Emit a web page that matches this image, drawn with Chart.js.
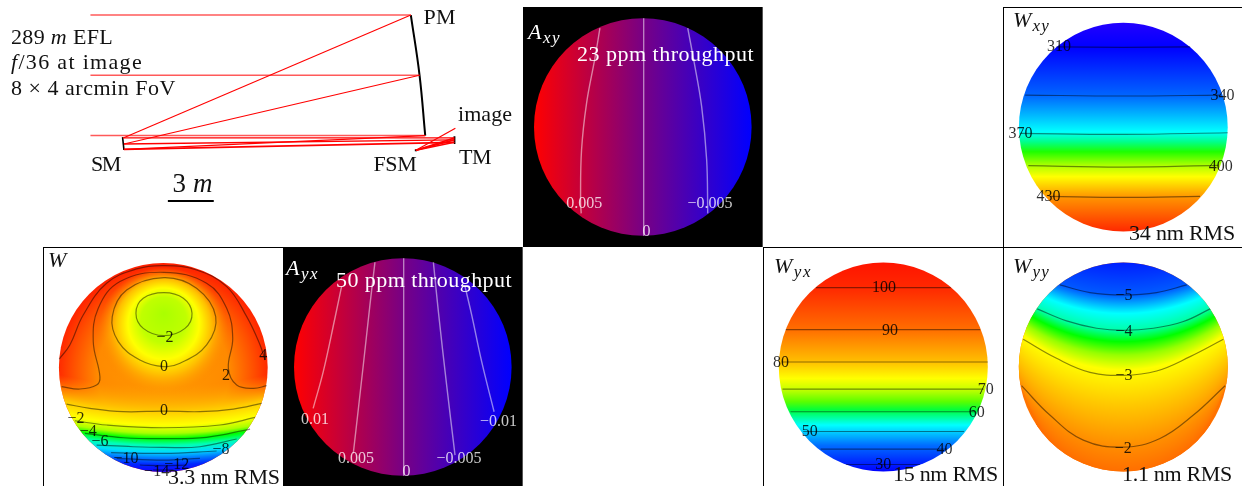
<!DOCTYPE html>
<html>
<head>
<meta charset="utf-8">
<title>Telescope wavefront and apodization maps</title>
<script src="https://cdn.jsdelivr.net/npm/chart.js@4"></script>
<style>
  html, body { margin: 0; padding: 0; background: #fff; }
  body { position: relative; width: 1242px; height: 486px; overflow: hidden; }
  .panel { position: absolute; box-shadow: inset 1px 1px 0 #000; }
  .panel.dark { background: #000; box-shadow: inset -1px 0 0 #555; }
  .panel.plain { box-shadow: none; }
  canvas { position: absolute; left: 0; top: 0; display: block; filter: blur(.3px); }
</style>
</head>
<body>
<div class="panel plain" style="left:0;top:0;width:523px;height:247px"><canvas id="layout" width="523" height="247"></canvas></div>
<div class="panel dark" style="left:523px;top:7px;width:240px;height:240px"><canvas id="axy" width="240" height="240"></canvas></div>
<div class="panel" style="left:1003px;top:7px;width:239px;height:240px"><canvas id="wxy" width="239" height="240"></canvas></div>
<div class="panel" style="left:43px;top:247px;width:240px;height:239px"><canvas id="w" width="240" height="239"></canvas></div>
<div class="panel dark" style="left:283px;top:247px;width:240px;height:239px"><canvas id="ayx" width="240" height="239"></canvas></div>
<div class="panel" style="left:763px;top:247px;width:240px;height:239px"><canvas id="wyx" width="240" height="239"></canvas></div>
<div class="panel" style="left:1003px;top:247px;width:239px;height:239px"><canvas id="wyy" width="239" height="239"></canvas></div>

<script>
// ---------- Optical layout (metres) ----------
const incomingRays = [
  [[-2.10, 7.88], [18.84, 7.88]],
  [[-2.10, 3.94], [19.41, 3.94]],
  [[-2.10, 0], [19.78, 0]]
];
const pmToSmRays = [
  [[18.84, 7.88], [0.04, -0.15]],
  [[19.41, 3.94], [0.09, -0.55]],
  [[19.78, 0], [0.09, -0.90]]
];
const smToTmRays = [
  [[0.04, -0.15], [21.68, -0.15]],
  [[0.09, -0.55], [21.68, -0.28]],
  [[0.09, -0.90], [21.68, -0.44]]
];
const tmToFsmRays = [
  [[21.68, -0.15], [19.17, -0.96]],
  [[21.68, -0.28], [19.17, -0.96]],
  [[21.68, -0.44], [19.17, -0.96]]
];
const fsmToImageRay = [[19.17, -0.96], [21.75, 0.48]];
const primaryMirror = [[18.84, 7.88], [19.41, 3.94], [19.78, 0]];
const secondaryMirror = [[0.0, -0.10], [0.09, -0.94]];
const tertiaryMirror = [[21.68, -0.04], [21.70, -0.55]];
const foldMirror = [[19.10, -0.96], [19.24, -0.96]];
const scaleBar = [[2.96, -4.27], [5.96, -4.27]];

// ---------- Pupil maps: contours in unit-pupil coordinates ----------
const axyContours = [
  [[0.008, 1], [0.008, -1]],
  [[-0.394, 0.908], [-0.44, 0.632], [-0.517, 0.218], [-0.563, -0.212], [-0.572, -0.672], [-0.566, -0.794]],
  [[0.413, 0.908], [0.465, 0.632], [0.541, 0.187], [0.587, -0.304], [0.597, -0.794]]
];
const axyLevels = ["0", "0.005", "\u22120.005"];
const axyLabelX = [0.035, -0.538, 0.618];
const axyLabelY = [-0.963, -0.702, -0.702];

const ayxContours = [
  [[0.008, 1], [0.008, -1]],
  [[-0.256, 0.963], [-0.302, 0.571], [-0.363, 0.018], [-0.455, -0.794]],
  [[0.281, 0.963], [0.327, 0.509], [0.403, -0.166], [0.48, -0.81]],
  [[-0.563, 0.739], [-0.624, 0.448], [-0.731, -0.043], [-0.824, -0.38]],
  [[0.572, 0.739], [0.633, 0.479], [0.725, 0.049], [0.839, -0.411]]
];
const ayxLevels = ["0", "0.005", "\u22120.005", "0.01", "\u22120.01"];
const ayxLabelX = [0.035, -0.431, 0.517, -0.808, 0.879];
const ayxLabelY = [-0.963, -0.84, -0.84, -0.488, -0.503];

const wxyContours = [
  [[-0.64, 0.77], [0, 0.765], [0.64, 0.77]],
  [[-0.94, 0.308], [0, 0.299], [0.94, 0.308]],
  [[-0.99, -0.059], [0, -0.069], [1, -0.053]],
  [[-0.91, -0.369], [0, -0.382], [0.91, -0.366]],
  [[-0.70, -0.663], [0, -0.673], [0.735, -0.663]]
];
const wxyLevels = ["310", "340", "370", "400", "430"];
const wxyLabelX = [-0.617, 0.949, -0.984, 0.933, -0.716];
const wxyLabelY = [0.772, 0.305, -0.059, -0.375, -0.666];
const wxyStopY = [1, 0.765, 0.308, 0.1, -0.043, -0.139, -0.235, -0.363, -0.474, -0.666, -1];
const wxyStopColors = ["#2300ff", "#0000ff", "#0064ff", "#00beff", "#00ffff", "#00ff8c", "#1eff00", "#aaff00", "#ffff00", "#ff9600", "#ff2800"];

const wyxContours = [
  [[-0.645, 0.76], [0.645, 0.76]],
  [[-0.933, 0.358], [0.927, 0.358]],
  [[-0.97, 0.048], [1, 0.048]],
  [[-0.965, -0.211], [0.96, -0.211]],
  [[-0.888, -0.428], [0.878, -0.428]],
  [[-0.767, -0.617], [0.773, -0.617]],
  [[-0.6, -0.786], [0.607, -0.786]],
  [[-0.358, -0.933], [0.351, -0.933]]
];
const wyxLevels = ["100", "90", "80", "70", "60", "50", "40", "30"];
const wyxLabelX = [0.006, 0.064, -0.978, 0.981, 0.895, -0.703, 0.585, 0];
const wyxLabelY = [0.76, 0.351, 0.045, -0.214, -0.435, -0.62, -0.789, -0.933];
const wyxStopY = [1, 0.76, 0.358, 0.048, -0.109, -0.211, -0.332, -0.412, -0.556, -0.748, -1];
const wyxStopColors = ["#ff1400", "#ff2800", "#ff6e00", "#ffc000", "#ffff00", "#c8ff00", "#5aff00", "#00ff3c", "#00ffff", "#006eff", "#0000ff"];

const wyyContours = [
  [[-0.607, 0.786], [-0.319, 0.712], [0, 0.69], [0.319, 0.712], [0.607, 0.786]],
  [[-0.824, 0.556], [-0.543, 0.441], [-0.256, 0.371], [0, 0.351], [0.288, 0.371], [0.575, 0.435], [0.831, 0.556]],
  [[-0.958, 0.265], [-0.639, 0.083], [-0.319, -0.051], [0, -0.08], [0.319, -0.038], [0.639, 0.099], [0.958, 0.265]],
  [[-0.974, -0.179], [-0.703, -0.46], [-0.383, -0.7], [0, -0.767], [0.351, -0.684], [0.671, -0.46], [0.974, -0.179]]
];
const wyyLevels = ["\u22125", "\u22124", "\u22123", "\u22122"];
const wyyLabelX = [0.006, 0.006, 0.006, 0];
const wyyLabelY = [0.684, 0.339, -0.083, -0.78];
// stops run from the small lower circle (0) to the wide upper one (1)
const wyyStopT = [1, 0.844, 0.755, 0.677, 0.621, 0.557, 0.486, 0.318, 0.119, 0];
const wyyStopColors = ["#001eff", "#005aff", "#00ffff", "#00ffaa", "#00ff00", "#96ff00", "#ffff00", "#ffc800", "#ff8c00", "#ff6e00"];
const wyyEdgeColor = "#ff7400";

const wLoops = [
  [[0.006, 0.717], [0.192, 0.663], [0.275, 0.519], [0.208, 0.375], [0.006, 0.305], [-0.192, 0.375], [-0.262, 0.519], [-0.192, 0.663]],
  [[0.006, 0.861], [0.319, 0.759], [0.502, 0.487], [0.415, 0.216], [0.16, 0.04], [0.006, 0.008], [-0.224, 0.072], [-0.431, 0.248], [-0.489, 0.487], [-0.351, 0.743]]
];
const wContours = [
  [[-0.974, -0.184], [-0.799, -0.206], [-0.639, -0.168], [-0.607, -0.088], [-0.671, 0.248], [-0.623, 0.567], [-0.415, 0.823], [0.006, 0.912], [0.415, 0.807], [0.607, 0.567], [0.665, 0.28], [0.623, -0.008], [0.703, -0.168], [0.863, -0.2], [0.99, -0.174]],
  [[-0.997, 0.081], [-0.895, 0.216], [-0.767, 0.503], [-0.543, 0.807], [-0.256, 0.944], [0.006, 0.976], [0.319, 0.934], [0.607, 0.775], [0.799, 0.487], [0.927, 0.216], [0.974, 0.072]],
  [[-0.927, -0.35], [-0.703, -0.391], [-0.383, -0.423], [0.006, -0.417], [0.351, -0.423], [0.671, -0.398], [0.942, -0.343]],
  [[-0.847, -0.51], [-0.543, -0.551], [0, -0.577], [0.543, -0.551], [0.879, -0.478]],
  [[-0.751, -0.631], [-0.383, -0.673], [0, -0.682], [0.415, -0.669], [0.831, -0.59]],
  [[-0.639, -0.743], [-0.288, -0.759], [0, -0.765], [0.351, -0.759], [0.703, -0.685]],
  [[-0.5, -0.815], [0, -0.823], [0.511, -0.8]],
  [[-0.447, -0.87], [0, -0.887], [0.351, -0.87]],
  [[-0.224, -0.934], [0, -0.941], [0.224, -0.934]],
  [[-0.096, -0.982], [0.096, -0.982]]
];
const wLevels = ["\u22122", "0", "4", "2", "0", "\u22122", "\u22124", "\u22126", "\u22128", "\u221210", "\u221212", "\u221214"];
const wLabelX = [0.016, 0.006, 0.958, 0.601, 0.006, -0.837, -0.719, -0.607, 0.553, -0.358, 0.128, -0.064];
const wLabelY = [0.289, 0.002, 0.113, -0.081, -0.414, -0.487, -0.615, -0.711, -0.791, -0.87, -0.934, -0.998];
const wBaseStopT = [0, 0.6, 0.82, 1];
const wBaseStopColors = ["#ff9c00", "#ff8a00", "#ff5000", "#ff1e00"];
const wBlobStopT = [0, 0.35, 0.55, 0.74, 1];
const wBlobStopColors = ["#aaff00", "#c0ff00", "#ffff00", "#ffbe00", "rgba(255,130,0,0)"];
const wLowerStopY = [-0.18, -0.414, -0.55, -0.63, -0.68, -0.745, -0.81, -0.87, -0.93, -1];
const wLowerStopColors = ["rgba(255,160,0,0)", "#ffc800", "#ffff00", "#aaff00", "#00ff00", "#00ffb4", "#00dcff", "#0078ff", "#0028ff", "#1400ff"];

const apodStopX = [-1, 0, 1];
const apodStopColors = ["#ff0000", "#780084", "#0000ff"];

// ---------- Captions ----------
const layoutCaptions = [
  { x: 11, y: 43.5, w: 102, runs: [{ t: "289" }, { t: " m", i: 1 }, { t: " EFL" }] },
  { x: 11, y: 68.6, w: 132, runs: [{ t: "f", i: 1 }, { t: "/36 at image" }] },
  { x: 11, y: 95.4, w: 165, runs: [{ t: "8 \u00d7 4 arcmin FoV" }] },
  { x: 423.6, y: 24, w: 32, runs: [{ t: "PM" }] },
  { x: 458, y: 121, w: 54, runs: [{ t: "image" }] },
  { x: 459, y: 164, w: 32, runs: [{ t: "TM" }] },
  { x: 373.4, y: 171, w: 43, runs: [{ t: "FSM" }] },
  { x: 91, y: 171, w: 29, runs: [{ t: "SM" }] },
  { x: 172.5, y: 191.5, w: 40, size: 27, runs: [{ t: "3" }, { t: " m", i: 1 }] }
];
const mapNames = { axy: ["A", "xy"], ayx: ["A", "yx"], wxy: ["W", "xy"], w: ["W", ""], wyx: ["W", "yx"], wyy: ["W", "yy"] };

// ---------- Helpers ----------
const SERIF = '"Liberation Serif", serif';
const toPoints = (pairs) => pairs.map(([x, y]) => ({ x, y }));

function runFont(run, size) {
  return `${run.i ? "italic " : ""}${size}px ${SERIF}`;
}

function drawCaption(ctx, cap, color) {
  const size = cap.size || 22;
  let chars = 0, width = 0;
  cap.runs.forEach((r) => {
    ctx.font = runFont(r, r.sub ? 17 : size);
    ctx.letterSpacing = "0px";
    width += ctx.measureText(r.t).width;
    chars += r.t.length;
  });
  const spacing = cap.w ? (cap.w - width) / chars : 0;
  let x = cap.x;
  cap.runs.forEach((r) => {
    ctx.font = runFont(r, r.sub ? 17 : size);
    ctx.letterSpacing = `${spacing}px`;
    ctx.fillStyle = color;
    ctx.fillText(r.t, x, cap.y + (r.sub ? 4 : 0));
    x += ctx.measureText(r.t).width;
  });
  ctx.letterSpacing = "0px";
}

// contour labels sit on the scales, captions on canvas pixels
function textPlugin(levels, labelX, labelY, labelColor, captions, captionColor) {
  return {
    id: "panelText",
    afterDatasetsDraw(chart) {
      const { ctx, scales } = chart;
      ctx.save();
      ctx.textAlign = "center";
      ctx.textBaseline = "middle";
      ctx.font = `16px ${SERIF}`;
      ctx.fillStyle = labelColor;
      levels.forEach((txt, i) => {
        ctx.fillText(txt, scales.x.getPixelForValue(labelX[i]), scales.y.getPixelForValue(labelY[i]));
      });
      ctx.textAlign = "left";
      ctx.textBaseline = "alphabetic";
      captions.forEach((c) => drawCaption(ctx, c, captionColor));
      ctx.restore();
    }
  };
}

// scales have no pixels yet on the first option pass (before layout)
function scaleReady(chart) {
  return Number.isFinite(chart.scales?.x?.getPixelForValue(1)) && chart.scales.x.width > 0;
}
function unitPx(chart) {
  return chart.scales.x.getPixelForValue(1) - chart.scales.x.getPixelForValue(0);
}
function addStops(grad, offsets, colors) {
  offsets.forEach((o, i) => grad.addColorStop(Math.min(1, Math.max(0, o)), colors[i]));
  return grad;
}

const verticalFill = (stopY, colors) => (chart) => {
  const y = chart.scales.y;
  const g = chart.ctx.createLinearGradient(0, y.getPixelForValue(1), 0, y.getPixelForValue(-1));
  return addStops(g, stopY.map((v) => (1 - v) / 2), colors);
};
const horizontalFill = (stopX, colors) => (chart) => {
  const x = chart.scales.x;
  const g = chart.ctx.createLinearGradient(x.getPixelForValue(-1), 0, x.getPixelForValue(1), 0);
  return addStops(g, stopX.map((v) => (v + 1) / 2), colors);
};
const radialFill = (c0, c1, offsets, colors) => (chart) => {
  const { x, y } = chart.scales, u = unitPx(chart);
  const g = chart.ctx.createRadialGradient(
    x.getPixelForValue(c0[0]), y.getPixelForValue(c0[1]), c0[2] * u,
    x.getPixelForValue(c1[0]), y.getPixelForValue(c1[1]), c1[2] * u
  );
  return addStops(g, offsets, colors);
};

function discLayer(fill, order) {
  return {
    data: [{ x: 0, y: 0 }],
    showLine: false,
    order,
    clip: false,
    pointRadius: (c) => (scaleReady(c.chart) ? unitPx(c.chart) : 0),
    pointBackgroundColor: (c) => (scaleReady(c.chart) ? fill(c.chart) : "transparent"),
    pointBorderWidth: 0
  };
}

function lineSet(pairs, color, width, tension = 0.4) {
  return {
    data: toPoints(pairs),
    showLine: true,
    fill: false,
    tension,
    borderColor: color,
    borderWidth: width,
    pointRadius: 0,
    order: 0
  };
}

// closed contour: run once round with one extra segment at each end, hidden, so the spline has no kink
function loopSet(pairs, color, width) {
  const n = pairs.length;
  const path = [pairs[n - 1], ...pairs, pairs[0], pairs[1]];
  const set = lineSet(path, color, width);
  set.segment = {
    borderColor: (s) => (s.p0DataIndex === 0 || s.p1DataIndex === path.length - 1 ? "transparent" : color)
  };
  return set;
}

function makeChart(id, xRange, yRange, datasets, plugin) {
  return new Chart(document.getElementById(id), {
    type: "scatter",
    data: { datasets },
    options: {
      responsive: false,
      animation: false,
      events: [],
      layout: { padding: 0 },
      plugins: { legend: { display: false }, tooltip: { enabled: false } },
      scales: {
        x: { type: "linear", display: false, min: xRange[0], max: xRange[1] },
        y: { type: "linear", display: false, min: yRange[0], max: yRange[1] }
      }
    },
    plugins: [plugin]
  });
}

// one chart per pupil map, axes in pupil radii, disc centre given in panel pixels
function pupilChart(id, box, disc, layers, lines, labels, labelColor, captions, captionColor) {
  const [w, h] = box, [cx, cy, r] = disc;
  makeChart(id, [-cx / r, (w - cx) / r], [(cy - h) / r, cy / r], [...lines, ...layers],
    textPlugin(labels[0], labels[1], labels[2], labelColor, captions, captionColor));
}

function nameRuns(key) {
  const [main, sub] = mapNames[key];
  const runs = [{ t: main, i: 1 }];
  if (sub) runs.push({ t: sub, i: 1, sub: 1 });
  return runs;
}

// ---------- Layout drawing ----------
const RED = "#ff0000";
makeChart("layout", [-8.011, 26.17], [-7.281, 8.863], [
  ...incomingRays.map((r) => lineSet(r, "rgba(255,0,0,.65)", 1.5, 0)),
  ...pmToSmRays.map((r) => lineSet(r, RED, 1.1, 0)),
  ...smToTmRays.map((r, i) => lineSet(r, RED, 1.1 + i * 0.3, 0)),
  ...tmToFsmRays.map((r) => lineSet(r, RED, 1.6, 0)),
  lineSet(fsmToImageRay, RED, 1.2, 0),
  lineSet(primaryMirror, "#000", 2),
  lineSet(secondaryMirror, "#000", 1.6, 0),
  lineSet(tertiaryMirror, "#000", 1.6, 0),
  lineSet(foldMirror, "#000", 2, 0),
  lineSet(scaleBar, "#000", 2, 0)
], textPlugin([], [], [], "#000", layoutCaptions, "#111"));

// ---------- Apodization maps ----------
const apodFill = () => [discLayer(horizontalFill(apodStopX, apodStopColors), 5)];
const PALE_LINE = "rgba(255,255,255,.5)";
const PALE_TEXT = "rgba(255,255,255,.78)";
const paleLines = (contours) => contours.map((c) => lineSet(c, PALE_LINE, 1.4));

pupilChart("axy", [240, 240], [119.8, 120, 108.8], apodFill(), paleLines(axyContours),
  [axyLevels, axyLabelX, axyLabelY], PALE_TEXT,
  [{ x: 5, y: 32, w: 33, runs: nameRuns("axy") },
   { x: 54, y: 54, w: 177, runs: [{ t: "23 ppm throughput" }] }], "#fff");

pupilChart("ayx", [240, 239], [119.8, 120, 108.8], apodFill(), paleLines(ayxContours),
  [ayxLevels, ayxLabelX, ayxLabelY], PALE_TEXT,
  [{ x: 3, y: 28, w: 33, runs: nameRuns("ayx") },
   { x: 53, y: 40, w: 176, runs: [{ t: "50 ppm throughput" }] }], "#fff");

// ---------- Wavefront maps ----------
const DARK_LINE = "rgba(0,0,0,.45)";
const DARK_TEXT = "rgba(0,0,0,.82)";
const darkLines = (contours) => contours.map((c) => lineSet(c, DARK_LINE, 1.2));

pupilChart("wxy", [239, 240], [120.3, 120.2, 104.4],
  [discLayer(verticalFill(wxyStopY, wxyStopColors), 5)], darkLines(wxyContours),
  [wxyLevels, wxyLabelX, wxyLabelY], DARK_TEXT,
  [{ x: 10, y: 20, w: 37, runs: nameRuns("wxy") },
   { x: 126, y: 233, w: 106, runs: [{ t: "34 nm RMS" }] }], "#111");

pupilChart("wyx", [240, 239], [120.3, 120, 104.5],
  [discLayer(verticalFill(wyxStopY, wyxStopColors), 5)], darkLines(wyxContours),
  [wyxLevels, wyxLabelX, wyxLabelY], DARK_TEXT,
  [{ x: 11, y: 26, w: 38, runs: nameRuns("wyx") },
   { x: 130, y: 234, w: 105, runs: [{ t: "15 nm RMS" }] }], "#111");

pupilChart("wyy", [239, 239], [120.3, 120, 104.5], [
  discLayer(radialFill([0, -0.042, 0.962], [0, 3.16, 2.157], wyyStopT, wyyStopColors), 4),
  discLayer(() => wyyEdgeColor, 5)
], darkLines(wyyContours),
  [wyyLevels, wyyLabelX, wyyLabelY], DARK_TEXT,
  [{ x: 10, y: 26, w: 37, runs: nameRuns("wyy") },
   { x: 119, y: 234, w: 110, runs: [{ t: "1.1 nm RMS" }] }], "#111");

pupilChart("w", [240, 239], [120.3, 120.5, 104.4], [
  discLayer(radialFill([0, 4.3, 4.48], [0, 4.3, 5.3], wLowerStopY.map((v) => (-0.18 - v) / 0.82), wLowerStopColors), 3),
  discLayer(radialFill([0.006, 0.519, 0], [0, 0.34, 0.62], wBlobStopT, wBlobStopColors), 4),
  discLayer(radialFill([0, -0.05, 0], [0, -0.05, 1.05], wBaseStopT, wBaseStopColors), 5)
], [...wLoops.map((c) => loopSet(c, DARK_LINE, 1.2)), ...darkLines(wContours)],
  [wLevels, wLabelX, wLabelY], DARK_TEXT,
  [{ x: 5, y: 20, w: 21, runs: nameRuns("w") },
   { x: 125, y: 237, w: 112, runs: [{ t: "3.3 nm RMS" }] }], "#111");
</script>
</body>
</html>
